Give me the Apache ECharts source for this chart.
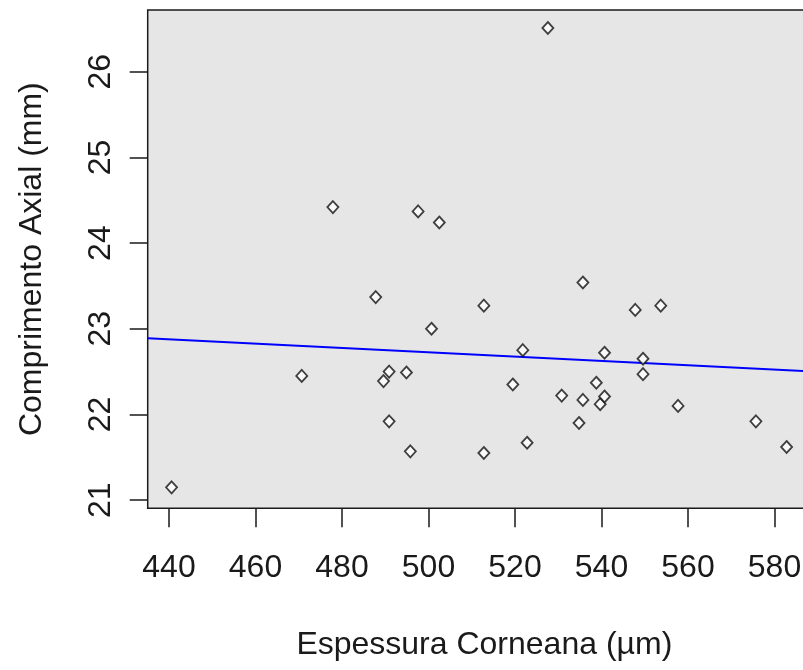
<!DOCTYPE html>
<html>
<head>
<meta charset="utf-8">
<script src="https://cdn.jsdelivr.net/npm/echarts@6/dist/echarts.min.js"></script>
<style>
html,body{margin:0;padding:0;background:#fff;}
#chart{width:803px;height:670px;}
</style>
</head>
<body>
<div id="chart"></div>
<script>
// Data
const espessura = [440.6, 470.7, 477.9, 487.8, 489.6, 490.9, 490.9, 494.9, 495.8, 497.6,
  500.7, 502.5, 512.8, 512.8, 519.5, 521.8, 522.8, 527.6, 530.8, 534.8,
  535.7, 535.7, 538.8, 539.7, 540.7, 540.7, 547.8, 549.6, 549.6, 553.7,
  557.7, 575.7, 582.8];
const comprimento = [21.15, 22.45, 24.42, 23.37, 22.39, 22.50, 21.92, 22.49, 21.57, 24.37,
  23.00, 24.24, 23.27, 21.55, 22.35, 22.75, 21.67, 26.51, 22.22, 21.90,
  22.17, 23.54, 22.37, 22.12, 22.21, 22.72, 23.22, 22.65, 22.47, 23.27,
  22.10, 21.92, 21.62];
const xTicks = [440, 460, 480, 500, 520, 540, 560, 580];
const yTicks = [21, 22, 23, 24, 25, 26];
// fitted line: y = fitIntercept + fitSlope * x
const fitIntercept = 23.99;
const fitSlope = -0.00253;

const xMin = 435.08, xMax = 590.75;
const yMin = 20.905, yMax = 26.72;

const points = espessura.map((x, i) => [x, comprimento[i]]);
const fitLine = [[xMin, fitIntercept + fitSlope * xMin], [xMax, fitIntercept + fitSlope * xMax]];

const font = "'Liberation Sans', Arial, sans-serif";
const chart = echarts.init(document.getElementById('chart'), null, {renderer: 'canvas'});
chart.setOption({
  animation: false,
  backgroundColor: '#ffffff',
  grid: {
    left: 147.7, top: 10, width: 673.3, height: 498.3,
    outerBoundsMode: 'none',
    show: true, backgroundColor: '#e6e6e6', borderColor: '#1a1a1a', borderWidth: 1.5,
    containLabel: false
  },
  xAxis: {
    type: 'value', min: xMin, max: xMax,
    name: 'Espessura Corneana (µm)', nameLocation: 'middle', nameGap: 121,
    nameTextStyle: {fontFamily: font, fontSize: 32, color: '#1a1a1a'},
    axisLine: {show: false},
    splitLine: {show: false},
    axisTick: {show: true, inside: false, length: 19, customValues: xTicks,
      lineStyle: {color: '#1a1a1a', width: 1.5}},
    axisLabel: {show: true, customValues: xTicks, margin: 44, fontFamily: font, fontSize: 32, color: '#1a1a1a'}
  },
  yAxis: {
    type: 'value', min: yMin, max: yMax,
    name: 'Comprimento Axial (mm)', nameLocation: 'middle', nameGap: 100, nameRotate: 90,
    nameTextStyle: {fontFamily: font, fontSize: 32, color: '#1a1a1a'},
    axisLine: {show: false},
    splitLine: {show: false},
    axisTick: {show: true, inside: false, length: 18, customValues: yTicks,
      lineStyle: {color: '#1a1a1a', width: 1.5}},
    axisLabel: {show: true, customValues: yTicks, rotate: 90, margin: 31, fontFamily: font, fontSize: 32, color: '#1a1a1a'}
  },
  series: [
    {
      type: 'line', data: fitLine, showSymbol: false, silent: true,
      lineStyle: {color: '#0000ff', width: 2}, z: 2
    },
    {
      type: 'scatter', data: points, symbol: 'diamond', symbolSize: [11, 12],
      itemStyle: {color: '#ffffff', borderColor: '#111111', borderWidth: 1.8}, z: 3
    }
  ]
});
</script>
</body>
</html>
